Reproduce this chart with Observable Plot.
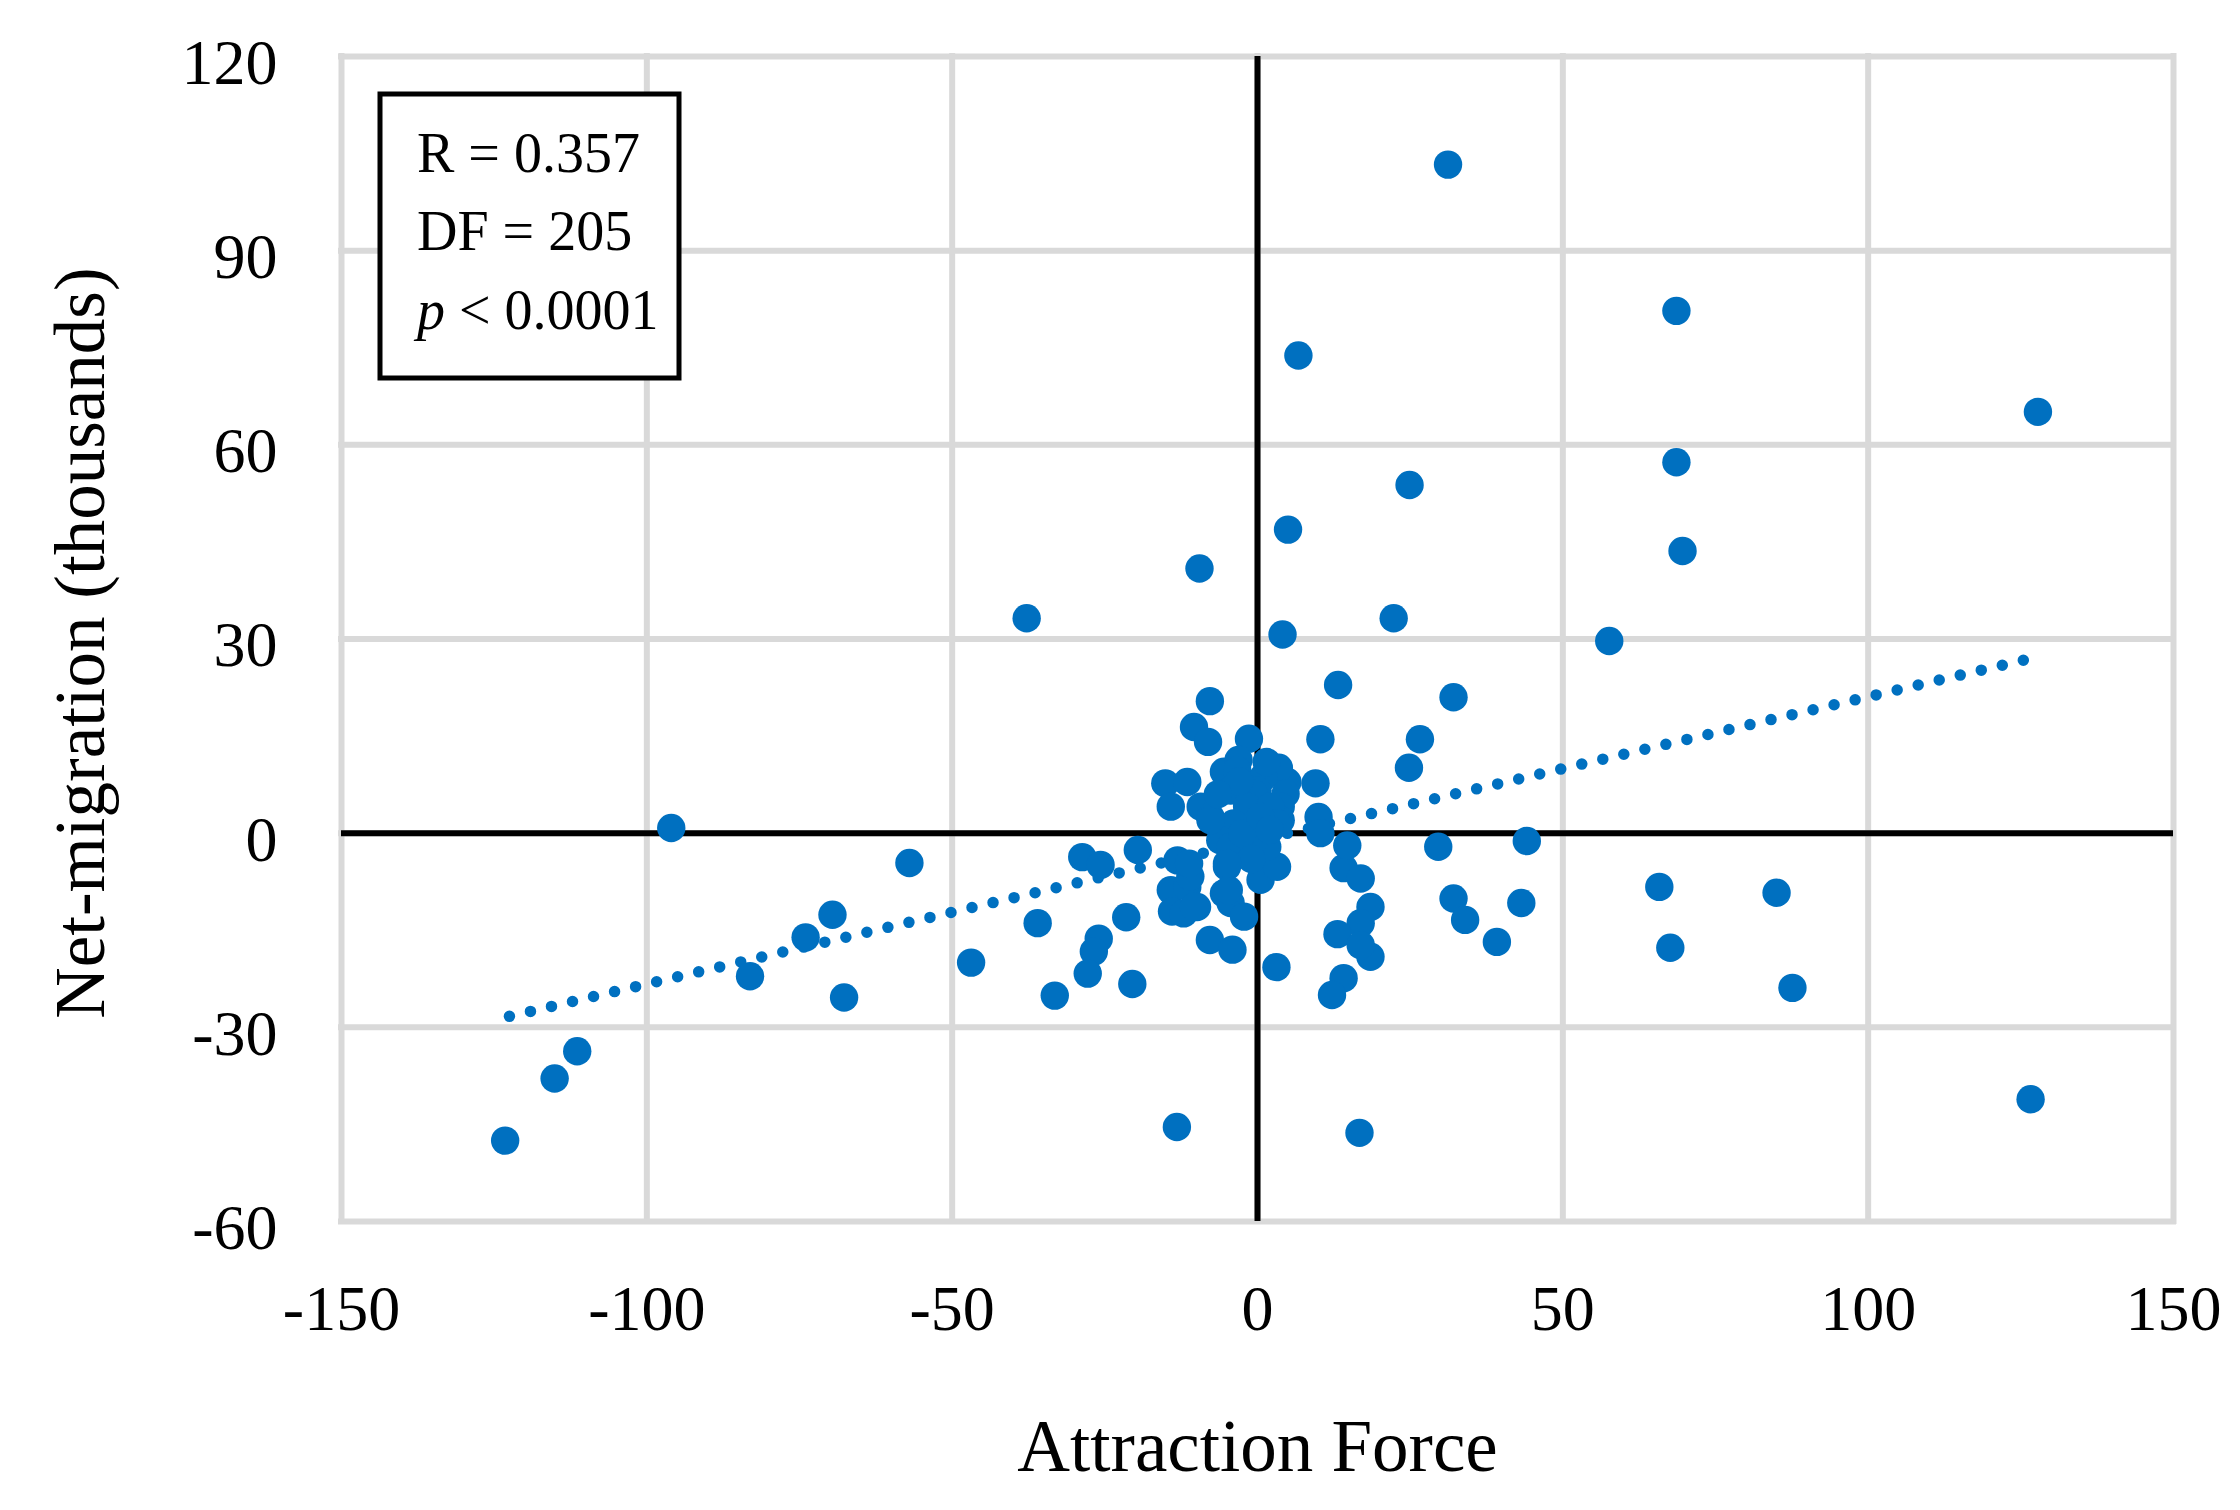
<!DOCTYPE html>
<html>
<head>
<meta charset="utf-8">
<script src="https://cdn.jsdelivr.net/npm/d3@7"></script>
<script src="https://cdn.jsdelivr.net/npm/@observablehq/plot@0.6"></script>
<style>
  html, body { margin: 0; padding: 0; background: #ffffff; }
  #chart { width: 2240px; height: 1510px; }
</style>
</head>
<body>
<div id="chart"></div>
<script>
// ---- data ----
const attractionForce = [
  31.2, 68.6, 6.7, 127.8, 68.6, 24.9, 5.0, 69.6, -9.5, -37.8,
  22.3, 4.1, 57.6, 13.2, 32.1, -7.8, -10.4, -8.1, -1.4, 10.3,
  26.6, 24.8, -96.0, -57.0, -69.6, -74.0, -83.1, -67.7, -46.9, -36.0,
  -33.2, -28.7, -25.7, -26.0, -26.8, -27.8, -19.6, -21.5, -20.5, -123.2,
  -115.1, -111.4, -13.2, 16.7, 126.6, 29.6, 44.1, 65.8, 85.0, 67.6,
  87.6, 43.2, 39.2, 32.1, 34.0, 14.1, 16.9, 18.5, 16.9, 13.1,
  18.5, 16.9, 14.1, 12.2, 3.1, 10.0, 10.3, 14.7, 9.5, 4.9,
  3.5, -14.2, -14.0, -11.5, -9.9, -12.1, -5.5, -4.4, -2.2, -7.8,
  -4.1, 0.5, 3.2, -5.0, -13.1, -11.0, -15.1, -11.5, -14.2, -11.2,
  -4.7, -5.5, -3.1, -3.3, 1.0, 4.6, -4.4, 0.0, -0.6, -1.7,
  -9.3, -7.7, 3.8, 3.8, -3.9, 1.0, -6.1, -1.7, 1.6, -2.8,
  -7.7, 2.1, -4.4, 3.2, -0.6, -2.5, 0.5, -1.0, 2.0, -3.0,
  1.5, -6.5, -5.0, -10.4
];
const netMigration = [
  103.3, 80.7, 73.8, 65.1, 57.3, 53.8, 46.9, 43.6, 40.9, 33.2,
  33.2, 30.7, 29.7, 22.9, 21.0, 20.4, 16.4, 14.1, 14.6, 14.5,
  14.5, 10.1, 0.8, -4.6, -12.6, -16.1, -22.1, -25.4, -20.0, -13.9,
  -25.1, -3.7, -4.9, -16.3, -18.3, -21.7, -2.6, -13.0, -23.3, -47.5,
  -37.9, -33.7, -45.4, -46.3, -41.1, -2.1, -1.2, -8.3, -9.2, -17.7,
  -23.9, -10.8, -16.8, -10.1, -13.4, -5.4, -7.0, -11.4, -13.9, -15.6,
  -19.1, -17.3, -22.4, -25.0, -20.7, 2.5, 0.0, -1.9, 7.7, 7.9,
  10.1, -8.8, -12.1, -8.3, -11.4, -12.4, -9.3, -10.8, -12.9, -16.5,
  -18.0, -7.2, -5.2, -5.2, -4.2, -6.7, 7.7, 7.9, 4.1, -4.7,
  -8.8, 9.5, 11.3, 9.7, 8.7, 6.1, 6.6, 6.6, 6.1, 4.1,
  4.1, 2.5, 4.1, 2.0, 1.5, 1.5, -1.1, -1.1, -2.1, -3.1,
  2.0, 4.1, -2.1, 1.5, -1.1, 0.0, 2.5, -4.0, 0.5, 8.0,
  11.0, 6.0, -4.7, -11.4
];

// linear trend line end points (as drawn in the reference)
const trendX = [-122.5, 125.8];
const trendY = [-28.3, 26.8];

// axis ticks
const xTicks = [-150, -100, -50, 0, 50, 100, 150];
const yTicks = [-60, -30, 0, 30, 60, 90, 120];

// titles and statistics annotation
const xTitle = "Attraction Force";
const yTitle = "Net-migration (thousands)";
const statNames = ["R", "DF", "p"];
const statOps = ["=", "=", "<"];
const statValues = ["0.357", "205", "0.0001"];

// ---- build ----
const points = attractionForce.map((x, i) => ({x, y: netMigration[i]}));
const trend = trendX.map((x, i) => ({x, y: trendY[i]}));

const FONT = "'Palatino Linotype', 'Book Antiqua', Palatino, 'Liberation Serif', serif";
const BLUE = "#0070C0";
const GRID = "#D9D9D9";

function statsBox(index, scales, values, dimensions) {
  const g = d3.create("svg:g");
  const left = dimensions.marginLeft, top = dimensions.marginTop;
  g.append("rect")
    .attr("x", left + 39).attr("y", top + 38)
    .attr("width", 299).attr("height", 284)
    .attr("fill", "#ffffff").attr("stroke", "#000000").attr("stroke-width", 5);
  statNames.forEach((name, i) => {
    const t = g.append("text")
      .attr("x", left + 76)
      .attr("y", top + 116 + i * 78.3)
      .attr("text-anchor", "start")
      .attr("font-family", FONT)
      .attr("font-size", 56)
      .attr("fill", "#000000");
    t.append("tspan").attr("font-style", name === "p" ? "italic" : "normal").text(name);
    t.append("tspan").text(" " + statOps[i] + " " + statValues[i]);
  });
  return g.node();
}

const chart = Plot.plot({
  width: 2240,
  height: 1510,
  marginLeft: 341,
  marginRight: 67,
  marginTop: 56,
  marginBottom: 289,
  style: {background: "#ffffff", fontFamily: FONT},
  x: {domain: [-150, 150], axis: null},
  y: {domain: [-60, 120], axis: null},
  marks: [
    Plot.gridX(xTicks, {stroke: GRID, strokeOpacity: 1, strokeWidth: 6, strokeLinecap: "square"}),
    Plot.gridY(yTicks, {stroke: GRID, strokeOpacity: 1, strokeWidth: 6, strokeLinecap: "square"}),
    Plot.ruleX([0], {stroke: "#000000", strokeWidth: 6}),
    Plot.ruleY([0], {stroke: "#000000", strokeWidth: 6}),
    Plot.line(trend, {x: "x", y: "y", stroke: BLUE, strokeWidth: 11.5,
      strokeDasharray: "0 21.6", strokeLinecap: "round"}),
    Plot.dot(points, {x: "x", y: "y", r: 14.2, fill: BLUE, stroke: "none"}),
    // tick labels
    Plot.text(yTicks, {y: d => d, text: d => String(d), frameAnchor: "left",
      textAnchor: "end", lineAnchor: "middle", dx: -64, dy: 7, fontSize: 64,
      fontFamily: FONT, fill: "#000000"}),
    Plot.text(xTicks, {x: d => d, text: d => String(d), frameAnchor: "bottom",
      textAnchor: "middle", lineAnchor: "middle", dy: 88, fontSize: 64,
      fontFamily: FONT, fill: "#000000"}),
    // axis titles
    Plot.text([xTitle], {text: d => d, frameAnchor: "bottom", textAnchor: "middle",
      lineAnchor: "middle", dy: 226, fontSize: 73, fontFamily: FONT, fill: "#000000"}),
    Plot.text([yTitle], {text: d => d, frameAnchor: "left", textAnchor: "middle",
      lineAnchor: "middle", dx: -260, dy: 4, rotate: -90,
      fontSize: 71, fontFamily: FONT, fill: "#000000"}),
    statsBox
  ]
});

document.getElementById("chart").appendChild(chart);
</script>
</body>
</html>
